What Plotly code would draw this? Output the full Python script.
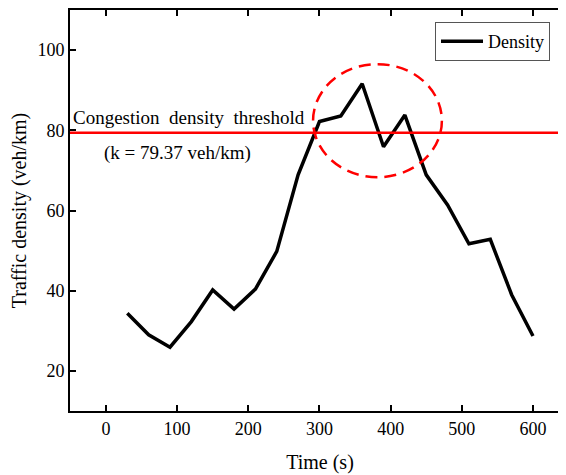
import plotly.graph_objects as go

time_s = [30, 60, 90, 120, 150, 180, 210, 240, 270, 300, 330, 360, 390, 420, 450, 480, 510, 540, 570, 600]
density = [34.4, 29.0, 25.9, 32.3, 40.2, 35.4, 40.4, 49.8, 68.9, 82.2, 83.6, 91.6, 75.9, 83.8, 68.9, 61.4, 51.7, 52.8, 39.0, 28.7]
threshold = 79.37
x_ticks = [0, 100, 200, 300, 400, 500, 600]
y_ticks = [20, 40, 60, 80, 100]
x_range = [-50.5, 652]
y_range = [10, 110]
circle_x = [291, 472]
circle_y = [68.3, 96.5]

FONT = "Liberation Serif"
NB = "\u00a0"

fig = go.Figure()
fig.add_trace(go.Scatter(x=time_s, y=density, mode="lines", name="Density",
                         line=dict(color="black", width=3.5)))

fig.add_hline(y=threshold, line=dict(color="#ff0000", width=2.5), layer="above")
fig.add_shape(type="circle", xref="x", yref="y",
              x0=circle_x[0], x1=circle_x[1], y0=circle_y[0], y1=circle_y[1],
              line=dict(color="#ff0000", width=2.5, dash="12px,7px"))

fig.add_annotation(x=x_range[0], y=83.1, xref="x", yref="y", xanchor="left", yanchor="middle",
                   xshift=1, showarrow=False,
                   text=f"Congestion{NB}{NB}density{NB}{NB}threshold",
                   font=dict(family=FONT, size=19, color="black"))
fig.add_annotation(x=101, y=74.4, xref="x", yref="y", xanchor="center", yanchor="middle",
                   showarrow=False,
                   text=f"(k{NB}={NB}{threshold}{NB}veh/km)",
                   font=dict(family=FONT, size=19, color="black"))

axis_common = dict(showline=True, linecolor="black", linewidth=2, ticks="inside", mirror="ticks",
                   ticklen=6, tickwidth=2, tickcolor="black", showgrid=False, zeroline=False,
                   automargin=False,
                   tickfont=dict(family=FONT, size=18, color="black"))

fig.update_layout(
    width=562, height=467,
    margin=dict(l=62, r=0, t=2, b=64, autoexpand=False),
    paper_bgcolor="white", plot_bgcolor="white",
    xaxis=dict(range=x_range, tickvals=x_ticks,
               title=dict(text="Time (s)", font=dict(family=FONT, size=20, color="black"), standoff=17),
               **axis_common),
    yaxis=dict(range=y_range, tickvals=y_ticks, ticklabelstandoff=0,
               title=dict(text="Traffic density (veh/km)", font=dict(family=FONT, size=20, color="black"), standoff=8),
               **axis_common),
    legend=dict(x=0.96, y=0.97, xanchor="right", yanchor="top",
                bordercolor="#555555", borderwidth=1, bgcolor="white",
                font=dict(family=FONT, size=18, color="black"),
                tracegroupgap=0, itemwidth=42),
    showlegend=True,
)

fig.write_html("out.html")
